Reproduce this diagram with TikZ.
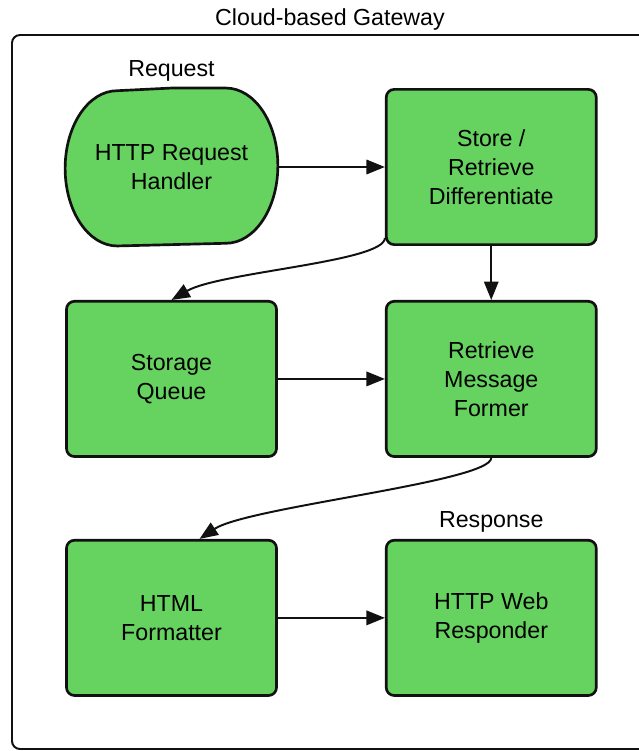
\documentclass[tikz,border=0pt]{standalone}
\usepackage{fontspec}
\setmainfont{Liberation Sans}
\usepackage{tikz}
\usetikzlibrary{arrows.meta, positioning, backgrounds}
\definecolor{stagegreen}{HTML}{66D25F}
\definecolor{inkblack}{HTML}{111111}

\begin{document}
\begin{tikzpicture}[x=0.025cm, y=-0.025cm,
    font=\fontsize{16.5}{20.6}\selectfont,
    stage/.style={rectangle, rounded corners=0.2cm, minimum width=5.25cm, minimum height=3.88cm,
      text centered, draw=inkblack, line width=1.9pt, fill=stagegreen, align=center},
    flow/.style={-{Triangle[length=0.46cm, width=0.36cm]}, line width=1.4pt, inkblack},
    tag/.style={inner sep=0pt}]

    \useasboundingbox (0,0) rectangle (639,751);
    \draw [line width=1.4pt, inkblack, rounded corners=0.2cm] (639,35) -| (12,749) -- (639,749);
    \node (title) at (330,19) {Cloud-based Gateway};

    \node (req) [stage, draw=none, fill=none] at (171.5,167) {HTTP Request\\Handler};
    \node (store) [stage, right=2.675cm of req] {Store /\\Retrieve\\Differentiate};
    \node (queue) [stage, below=1.35cm of req] {Storage\\Queue};
    \node (former) [stage, below=1.35cm of store] {Retrieve\\Message\\Former};
    \node (html) [stage, below=2.025cm of queue] {HTML\\Formatter};
    \node (web) [stage, below=2.025cm of former] {HTTP Web\\Responder};

    \node (reqtag) [tag, above=0.15cm of req] {Request};
    \node (webtag) [tag, above=0.15cm of web] {Response};

    \begin{scope}[on background layer]
      \draw [draw=inkblack, line width=1.9pt, fill=stagegreen]
        (req.north) -- ([xshift=-1.3cm]req.north east)
        arc [start angle=90, end angle=-90, x radius=1.3cm, y radius=1.94cm]
        -- ([xshift=1.3cm]req.south west)
        arc [start angle=270, end angle=90, x radius=1.3cm, y radius=1.94cm] -- cycle;
    \end{scope}

    \draw [flow] (req) -- (store);
    \draw [flow] (store) -- (former);
    \draw [flow] (queue) -- (former);
    \draw [flow] (html) -- (web);
    \draw [flow] ([yshift=0.2cm]store.south west) .. controls +(0cm,-0.6cm) and +(1.2cm,0.7cm) .. (queue.north);
    \draw [flow] (former.south) .. controls +(0cm,-0.6cm) and +(1.2cm,0.8cm) .. ([xshift=0.7cm]html.north);
\end{tikzpicture}
\end{document}
